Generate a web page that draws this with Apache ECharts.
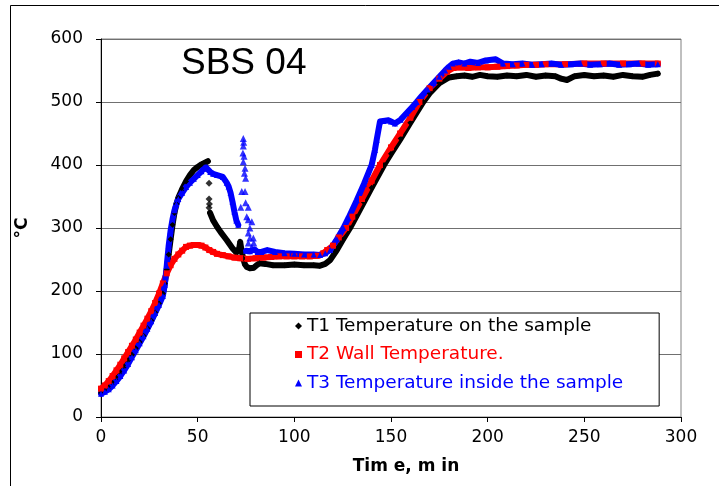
<!DOCTYPE html>
<html>
<head>
<meta charset="utf-8">
<script src="https://cdn.jsdelivr.net/npm/echarts@6/dist/echarts.min.js"></script>
<style>
html,body{margin:0;padding:0;background:#fff;}
#chart{width:719px;height:486px;}
</style>
</head>
<body>
<div id="chart"></div>
<script>
// ---- data ----
var chartTitle = 'SBS 04';
var xTicks = [0, 50, 100, 150, 200, 250, 300];
var yTicks = [0, 100, 200, 300, 400, 500, 600];
var seriesNames = ['T1 Temperature on the sample', 'T2 Wall Temperature.', 'T3 Temperature inside the sample'];

var t1Time = [0,2,4,6,8,10,12,14,16,18,20,22,24,26,28,30,32,33,34,35,36,37,38,39,40,42,44,46,48,50,52,54,55.3,55.8,56.4,58,60,62,65,68,70,71.5,72,72.5,73.5,74.5,75.5,77,79,80.5,82,85,89,95,100,105,110,113,116,118.5,122,125,128.8,132,136,140,146.4,150,155,160,166.7,170,175,180,184,188,192,196,200,205,210,215,220,225,230,235,238,241,245,250,255,260,265,270,275,280,284,288];
var t1Temp = [38,42,47,54,62,71,80,90,99,109,119,129,141,153,166,180,196,212,234,258,282,305,324,338,348,362,374,384,392,397,401,404,406,null,324,312,302,293,281,268,261,268,278,268,252,242,238,236,237,241,244,243,241,241,242,241,241,240,243,249,265,281,300,318,341,364,400,418,442,467,500,514,530,539,541,542,540,543,541,540,542,541,543,540,542,541,537,535,541,543,541,542,540,543,541,540,543,545];
var t1DropTime = [55.9, 55.9, 55.9, 56.1];
var t1DropTemp = [371, 346, 332, 338];

var t2Time = [0,2,4,6,8,10,12,14,16,18,20,22,24,26,28,30,32,34,36,38,40,42,44,46,48,50,52,54,56,58,60,63,66,69,72,76,80,84,88,92,96,100,104,108,112,115,117,120,123,126.8,130,135,140,144.3,150,154.7,160,164.7,170,175,179,182.3,186,190,195,200,205,210,215,220,225,230,240,250,260,270,280,288];
var t2Temp = [45,50,57,65,74,83,93,103,113,123,134,145,156,168,181,196,212,228,241,251,258,264,270,272,273,273,272,269,265,262,259,257,255,253,252,251,252,253,254,255,255,255,255,255,256,260,265,272,285,300,318,346,375,400,428,450,475,500,522,537,548,554,555,554,555,555,556,557,558,559,559,560,560,561,561,561,561,561];

var t3Time = [0,2,4,6,8,10,12,14,16,18,20,22,24,26,28,30,32,33,34,35,36,37,38,39,40,42,44,46,48,50,52,54,55,56.5,58,60,63,65,66,67,68,69,70,71,72,75,77,79.5,81,83,86,90,95,100,105,110,113.3,116,118.5,122,125.4,128,132.3,136,140,141.7,142.6,144.3,146,148.6,150,152,155,158,161,163.3,166,169,172,175,178,180,182,185,188,191,195,199,204,208,213,218,223,228,233,238,243,248,253,258,263,268,273,278,283,288];
var t3Temp = [37,40,44,50,57,65,74,84,95,106,117,128,140,152,165,178,192,210,240,272,296,314,328,338,346,356,365,372,378,384,390,397,394,389,386,384,381,372,366,356,342,326,312,305,null,264,263,266,262,262,265,262,260,259,258,258,257,260,265,282,300,316,344,370,400,424,440,469,470,471,469,466,472,482,492,500,510,520,530,540,550,556,561,563,561,564,562,566,568,561,560,561,559,560,561,559,560,561,559,560,561,559,560,561,559,560];
var t3SpikeTime = [73.6,73.8,73.6,73.4,74,73.6,74.5,74.2,74.8,72.8,74.5,72.3,74.8,76.2,75.4,76.2,78,77,76.2,77,78.8,76.2,78,79];
var t3SpikeTemp = [442,436,430,419,414,405,395,387,379,358,358,333,340,333,318,313,310,300,292,284,284,276,270,276];

function pairs(ts, vs) { return ts.map(function (t, i) { return [t, vs[i]]; }); }

var BLACK = '#000000', RED = '#ff0000', BLUE = '#0000ff';
var FONT = 'DejaVu Sans';

var chart = echarts.init(document.getElementById('chart'), null, {renderer: 'canvas'});

function mainLine(name, color, symbol, data) {
  return {
    name: name, type: 'line', data: data, connectNulls: false,
    symbol: symbol, symbolSize: 6, showSymbol: true,
    itemStyle: {color: color},
    lineStyle: {color: color, width: 6, join: 'round', cap: 'round'},
    emphasis: {disabled: true}, z: 3
  };
}

var option = {
  animation: false,
  backgroundColor: '#fff',
  title: {
    text: chartTitle, left: 181, top: 45, padding: 0,
    textStyle: {fontFamily: 'Liberation Sans', fontSize: 37, fontWeight: 'normal', color: '#000'}
  },
  grid: {left: 101, right: 38, top: 39, bottom: 69, show: true, borderColor: '#808080', borderWidth: 1},
  xAxis: {
    type: 'value', min: xTicks[0], max: xTicks[xTicks.length - 1], interval: 50,
    name: 'Tim e, m in', nameLocation: 'middle', nameGap: 41,
    nameTextStyle: {fontFamily: FONT, fontSize: 17, fontWeight: 'bold', color: '#000', padding: [0, 0, 0, 30]},
    axisLine: {lineStyle: {color: '#000', width: 1}},
    axisTick: {show: true, length: 5, lineStyle: {color: '#000'}},
    axisLabel: {fontFamily: FONT, fontSize: 17, color: '#000', margin: 12},
    splitLine: {show: false}
  },
  yAxis: {
    type: 'value', min: yTicks[0], max: yTicks[yTicks.length - 1], interval: 100,
    name: '°C', nameLocation: 'middle', nameGap: 70, nameRotate: 90,
    nameTextStyle: {fontFamily: FONT, fontSize: 17, fontWeight: 'bold', color: '#000'},
    axisLine: {show: true, lineStyle: {color: '#000', width: 1}},
    axisTick: {show: true, length: 5, lineStyle: {color: '#000'}},
    axisLabel: {fontFamily: FONT, fontSize: 17, color: '#000', margin: 18},
    splitLine: {show: true, lineStyle: {color: '#707070', width: 1}}
  },
  legend: {
    orient: 'vertical', left: 250, top: 313,
    padding: [3, 36, 13, 45], itemGap: 8.5, itemWidth: 7, itemHeight: 7,
    backgroundColor: '#fff', borderColor: '#000', borderWidth: 1, borderRadius: 0,
    textStyle: {fontFamily: FONT, fontSize: 18.5, lineHeight: 20},
    data: [
      {name: seriesNames[0], icon: 'diamond', textStyle: {color: BLACK}},
      {name: seriesNames[1], icon: 'rect', textStyle: {color: RED}},
      {name: seriesNames[2], icon: 'triangle', textStyle: {color: BLUE}}
    ],
    selectedMode: false
  },
  graphic: [{
    type: 'rect', shape: {x: 10.5, y: 5.5, width: 760, height: 520},
    style: {fill: 'none', stroke: '#000', lineWidth: 1}, silent: true, z: -1
  }],
  series: [
    mainLine(seriesNames[0], BLACK, 'diamond', pairs(t1Time, t1Temp)),
    {name: seriesNames[0], type: 'scatter', data: pairs(t1DropTime, t1DropTemp), symbol: 'diamond', symbolSize: 7,
     itemStyle: {color: BLACK}, z: 3},
    mainLine(seriesNames[1], RED, 'rect', pairs(t2Time, t2Temp)),
    mainLine(seriesNames[2], BLUE, 'triangle', pairs(t3Time, t3Temp)),
    {name: seriesNames[2], type: 'scatter', data: pairs(t3SpikeTime, t3SpikeTemp), symbol: 'triangle', symbolSize: 7,
     itemStyle: {color: BLUE}, z: 3}
  ]
};
chart.setOption(option);
</script>
</body>
</html>
